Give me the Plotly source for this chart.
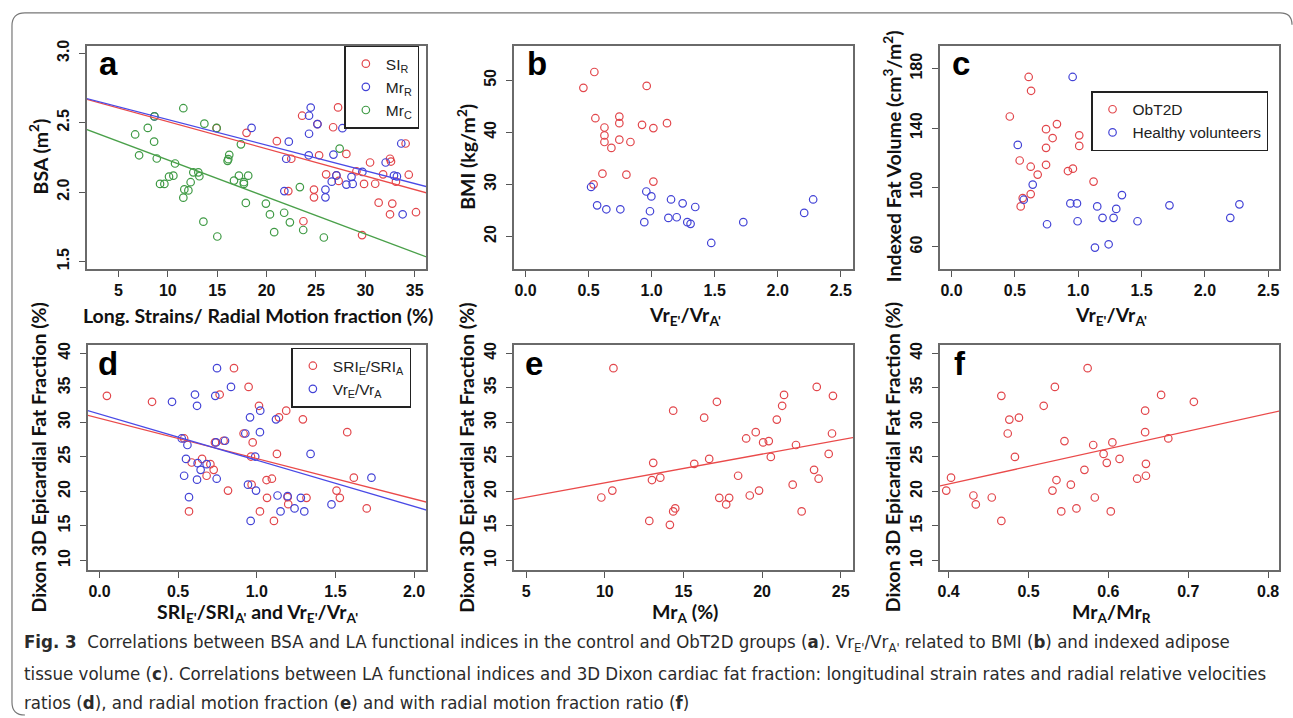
import plotly.graph_objects as go

W, H = 1293, 718

# ---------------- DATA ----------------
# Panel a: BSA vs Long. strains / radial motion fraction
a_sir_x = [14.94, 17.97, 27.24, 23.6, 25.15, 26.74, 21.04, 34.08, 22.5, 25.32, 28.08, 30.48, 32.5, 32.6,
           29.1, 31.8, 34.4, 26.03, 27.07, 27.3, 29.87, 31.0, 33.1, 22.2, 24.8, 24.8, 31.35, 32.73,
           32.5, 35.13, 23.73, 29.67]
a_sir_y = [2.46, 2.427, 2.61, 2.55, 2.49, 2.467, 2.367, 2.35, 2.24, 2.265, 2.275, 2.213, 2.24, 2.22,
           2.15, 2.128, 2.125, 2.128, 2.12, 2.08, 2.059, 2.06, 2.075, 2.007, 2.018, 1.962, 1.924, 1.917,
           1.84, 1.855, 1.79, 1.69]
a_mrr_x = [8.64, 18.48, 24.47, 24.3, 25.15, 27.68, 24.3, 22.25, 33.64, 21.99, 24.27, 26.77, 32.06, 29.7,
           32.9, 33.2, 27.07, 28.6, 26.6, 28.08, 28.72, 21.8, 25.96, 25.96, 33.78]
a_mrr_y = [2.545, 2.462, 2.609, 2.55, 2.49, 2.46, 2.42, 2.363, 2.35, 2.24, 2.265, 2.27, 2.213, 2.145,
           2.118, 2.113, 2.12, 2.11, 2.075, 2.054, 2.059, 2.007, 2.018, 1.962, 1.84]
a_mrc_x = [6.69, 7.09, 7.97, 8.61, 8.64, 8.88, 9.21, 9.65, 10.12, 10.56, 10.73, 11.57, 11.57, 11.67,
           12.08, 12.31, 12.58, 13.09, 13.19, 13.6, 13.7, 14.94, 15.01, 16.12, 16.22, 16.05, 16.7, 17.2,
           17.4, 17.7, 17.7, 18.14, 17.9, 19.93, 20.34, 20.77, 21.78, 22.36, 23.37, 23.71, 25.8, 27.4]
a_mrc_y = [2.415, 2.265, 2.462, 2.363, 2.545, 2.242, 2.059, 2.059, 2.111, 2.118, 2.206, 2.604, 1.96, 2.019,
           2.012, 2.071, 2.142, 2.142, 2.114, 1.787, 2.493, 2.462, 1.68, 2.237, 2.268, 2.225, 2.083, 2.118,
           2.344, 2.059, 2.071, 2.118, 1.922, 1.917, 1.839, 1.711, 1.851, 1.782, 2.036, 1.727, 1.673, 2.313]
# regression lines (intercept, slope)
a_fit_sir = (2.703, -0.01957)
a_fit_mrr = (2.706, -0.01841)
a_fit_mrc = (2.498, -0.02667)

# Panel b: BMI vs Vr_E'/Vr_A'
b_ob_x = [0.459, 0.546, 0.961, 0.554, 0.744, 0.744, 0.626, 0.626, 0.626, 0.744, 0.832, 0.681, 0.924,
          1.014, 1.122, 0.61, 0.8, 1.014, 0.54]
b_ob_y = [48.54, 51.59, 48.92, 42.71, 43.02, 41.76, 40.93, 39.41, 38.14, 38.59, 38.14, 37.0, 41.44,
          40.81, 41.76, 32.05, 31.86, 30.53, 30.0]
b_hv_x = [0.52, 0.568, 0.641, 0.752, 0.942, 0.958, 0.998, 0.987, 1.133, 1.199, 1.154, 1.246, 1.346,
          1.283, 1.309, 1.473, 1.727, 2.21, 2.281]
b_hv_y = [29.5, 25.97, 25.21, 25.21, 22.73, 28.63, 27.68, 24.83, 23.56, 23.68, 27.1, 26.35, 25.65,
          22.73, 22.42, 18.74, 22.73, 24.51, 27.1]

# Panel c: Indexed fat volume vs Vr_E'/Vr_A'
c_ob_x = [0.609, 0.628, 0.46, 0.832, 0.746, 0.798, 1.008, 1.008, 0.746, 0.538, 0.746, 0.625, 0.919,
          0.958, 0.68, 1.121, 0.625, 0.562, 0.546]
c_ob_y = [174.4, 165.1, 147.8, 142.7, 139.3, 133.3, 135.1, 128.0, 126.7, 118.2, 115.3, 114.0, 111.1,
          112.7, 108.7, 104.0, 95.6, 92.9, 87.3]
c_hv_x = [0.956, 0.523, 0.641, 0.57, 1.345, 0.938, 0.99, 1.15, 1.72, 2.272, 1.3, 1.192, 1.279, 2.2,
          0.995, 1.468, 0.754, 1.24, 1.132]
c_hv_y = [174.4, 128.7, 102.0, 91.8, 94.9, 89.3, 89.3, 87.3, 88.0, 88.7, 85.6, 79.6, 79.6, 79.6,
          77.3, 77.3, 75.3, 61.8, 59.6]

# Panel d: Dixon 3D epicardial fat fraction vs SRI_E'/SRI_A' and Vr_E'/Vr_A'
d_sri_x = [0.047, 0.334, 0.855, 0.948, 0.764, 1.014, 1.187, 1.141, 1.293, 1.575, 0.916, 0.974, 0.538,
           0.734, 0.789, 1.128, 0.963, 0.652, 0.586, 0.705, 0.726, 0.681, 0.817, 1.062, 1.096, 0.967,
           1.617, 1.507, 1.528, 1.065, 1.196, 1.2, 1.316, 1.699, 1.02, 1.109, 0.569]
d_sri_y = [33.84, 32.98, 37.85, 35.13, 34.03, 32.4, 31.69, 30.73, 30.44, 28.58, 28.39, 27.1, 27.67,
           27.1, 27.34, 25.43, 25.05, 24.71, 24.19, 23.95, 23.13, 22.27, 20.12, 21.65, 21.84, 20.98,
           21.99, 20.12, 19.07, 19.07, 19.17, 18.16, 19.07, 17.54, 17.11, 15.73, 17.11]
d_vr_x = [0.747, 0.836, 0.607, 0.736, 0.461, 0.62, 1.022, 0.957, 1.122, 1.02, 0.927, 0.523, 0.559,
          0.741, 0.798, 0.99, 1.342, 0.55, 0.624, 0.643, 0.681, 0.538, 0.62, 0.745, 0.944, 0.995,
          1.729, 0.569, 1.132, 1.196, 1.28, 1.475, 1.24, 1.151, 1.302, 0.961]
d_vr_y = [37.85, 35.13, 34.03, 33.84, 32.98, 32.4, 31.69, 30.73, 30.44, 28.58, 28.39, 27.67, 26.72,
          27.1, 27.34, 25.05, 25.43, 24.71, 24.09, 23.13, 23.95, 22.27, 21.7, 21.84, 20.98, 20.12,
          21.99, 19.17, 19.41, 19.31, 19.07, 18.12, 17.54, 17.11, 17.11, 15.73]
d_fit_sri = (30.59, -5.84)
d_fit_vr = (31.2, -6.687)

# Panel e: fat fraction vs Mr_A (%)
e_x = [10.55, 9.78, 10.48, 13.08, 13.0, 13.53, 12.83, 14.14, 14.35, 14.35, 14.48, 15.69, 16.32, 16.64,
       17.13, 17.28, 17.91, 17.72, 18.48, 18.99, 19.22, 19.6, 19.81, 20.07, 20.43, 20.56, 20.94, 21.28,
       21.4, 21.95, 22.16, 22.52, 23.31, 23.48, 23.6, 24.24, 24.45, 24.51]
e_y = [37.85, 19.12, 20.12, 24.14, 21.65, 21.99, 15.73, 15.16, 31.69, 17.11, 17.54, 23.99, 30.68, 24.71,
       32.98, 19.07, 19.07, 18.12, 22.27, 27.67, 19.41, 28.58, 20.12, 27.1, 27.29, 25.0, 30.4, 32.4,
       33.98, 20.98, 26.72, 17.11, 23.13, 35.13, 21.84, 25.43, 28.39, 33.84]
e_fit = (17.07, 0.4166)

# Panel f: fat fraction vs Mr_A/Mr_R
f_x = [0.397, 0.403, 0.431, 0.434, 0.454, 0.466, 0.466, 0.474, 0.476, 0.483, 0.488, 0.519, 0.53, 0.533,
       0.535, 0.541, 0.545, 0.553, 0.56, 0.57, 0.574, 0.581, 0.583, 0.594, 0.598, 0.603, 0.605, 0.614,
       0.636, 0.646, 0.646, 0.647, 0.647, 0.666, 0.675, 0.707]
f_y = [20.12, 21.99, 19.41, 18.12, 19.12, 33.84, 15.73, 28.39, 30.4, 25.0, 30.68, 32.4, 20.12, 35.13,
       21.65, 17.11, 27.29, 20.98, 17.54, 23.13, 37.85, 26.72, 19.12, 25.43, 24.14, 17.11, 27.1, 24.71,
       21.84, 31.69, 28.58, 23.99, 22.27, 33.98, 27.67, 32.98]
f_fit = (10.86, 25.53)

# tick values
a_xticks = [5, 10, 15, 20, 25, 30, 35]
a_yticks = [1.5, 2.0, 2.5, 3.0]
bc_xticks = [0.0, 0.5, 1.0, 1.5, 2.0, 2.5]
b_yticks = [20, 30, 40, 50]
c_yticks = [60, 100, 140, 180]
d_xticks = [0.0, 0.5, 1.0, 1.5, 2.0]
def_yticks = [10, 15, 20, 25, 30, 35, 40]
e_xticks = [5, 10, 15, 20, 25]
f_xticks = [0.4, 0.5, 0.6, 0.7, 0.8]

# ---------------- STYLE ----------------
RED = "#e2474c"
BLUE = "#4343d6"
GREEN = "#3f9a45"
RED_L = "#ea4a4a"
BLUE_L = "#4a4ae6"
GREEN_L = "#4aa04a"
TICKFONT = dict(family="Liberation Sans, Arial, sans-serif", size=16, color="#111", weight="bold")
TITLEFONT = dict(family="Lato, Liberation Sans, sans-serif", size=19.5, color="#111")


def fx(px):
    return px / W


def fy(py):
    return 1 - py / H


# panel boxes in pixels: (left, right, top, bottom)
boxes = {
    "a": (85, 425, 40, 266), "b": (512.7, 852.7, 40, 266), "c": (939.3, 1279.3, 40, 266),
    "d": (86, 425, 342.7, 569.3), "e": (512.7, 852.7, 342.7, 569.3), "f": (939.3, 1279.3, 342.7, 569.3),
}
ranges = {
    "a": ([1.8, 36.18], [1.443, 3.055]),
    "b": ([-0.092, 2.6], [13.66, 56.66]),
    "c": ([-0.092, 2.587], [44.9, 195.5]),
    "d": ([-0.074, 2.078], [8.66, 41.15]),
    "e": ([4.22, 25.81], [8.66, 41.15]),
    "f": ([0.389, 0.814], [8.66, 41.15]),
}
ticks = {
    "a": (a_xticks, a_yticks, ".0f", ".1f"),
    "b": (bc_xticks, b_yticks, ".1f", ".0f"),
    "c": (bc_xticks, c_yticks, ".1f", ".0f"),
    "d": (d_xticks, def_yticks, ".1f", ".0f"),
    "e": (e_xticks, def_yticks, ".0f", ".0f"),
    "f": (f_xticks, def_yticks, ".1f", ".0f"),
}
order = ["a", "b", "c", "d", "e", "f"]
axid = {k: ("" if i == 0 else str(i + 1)) for i, k in enumerate(order)}

fig = go.Figure()


def pts(panel, x, y, color, name, legend=None, show=False):
    s = axid[panel]
    fig.add_trace(go.Scatter(
        x=x, y=y, mode="markers", name=name, xaxis="x" + s, yaxis="y" + s,
        marker=dict(symbol="circle-open", size=7.5, color=color, line=dict(width=1.2, color=color)),
        showlegend=show, legend=legend if legend else "legend", hoverinfo="skip"))


def fit(panel, coef, color):
    s = axid[panel]
    x0, x1 = ranges[panel][0]
    pad = (x1 - x0) * 0.02
    xs = [x0 - pad, x1 + pad]
    ys = [coef[0] + coef[1] * v for v in xs]
    fig.add_trace(go.Scatter(x=xs, y=ys, mode="lines", xaxis="x" + s, yaxis="y" + s,
                             line=dict(color=color, width=1.3), showlegend=False, hoverinfo="skip"))


pts("a", a_sir_x, a_sir_y, RED, "SI<sub>R</sub>", "legend", True)
pts("a", a_mrr_x, a_mrr_y, BLUE, "Mr<sub>R</sub>", "legend", True)
pts("a", a_mrc_x, a_mrc_y, GREEN, "Mr<sub>C</sub>", "legend", True)
fit("a", a_fit_sir, RED_L)
fit("a", a_fit_mrr, BLUE_L)
fit("a", a_fit_mrc, GREEN_L)

pts("b", b_ob_x, b_ob_y, RED, "ObT2D")
pts("b", b_hv_x, b_hv_y, BLUE, "Healthy volunteers")

pts("c", c_ob_x, c_ob_y, RED, "ObT2D", "legend2", True)
pts("c", c_hv_x, c_hv_y, BLUE, "Healthy volunteers", "legend2", True)

pts("d", d_sri_x, d_sri_y, RED, "SRI<sub>E</sub>/SRI<sub>A</sub>", "legend3", True)
pts("d", d_vr_x, d_vr_y, BLUE, "Vr<sub>E</sub>/Vr<sub>A</sub>", "legend3", True)
fit("d", d_fit_sri, RED_L)
fit("d", d_fit_vr, BLUE_L)

pts("e", e_x, e_y, RED, "e")
fit("e", e_fit, RED_L)
pts("f", f_x, f_y, RED, "f")
fit("f", f_fit, RED_L)

layout = dict(width=W, height=H, margin=dict(l=0, r=0, t=0, b=0), paper_bgcolor="white",
              plot_bgcolor="white", showlegend=True)
for k in order:
    s = axid[k]
    l, r, t, b = boxes[k]
    xt, yt, xf, yf = ticks[k]
    common = dict(showline=True, linecolor="#6a6a6a", linewidth=1.6, mirror=True, showgrid=False,
                  zeroline=False, ticks="outside", ticklen=6, tickwidth=1.2, tickcolor="#555",
                  tickfont=TICKFONT, fixedrange=True)
    layout["xaxis" + s] = dict(domain=[fx(l), fx(r)], range=ranges[k][0], tickvals=xt, tickformat=xf,
                               anchor="y" + s, **common)
    layout["yaxis" + s] = dict(domain=[fy(b), fy(t)], range=ranges[k][1], tickvals=yt, tickformat=yf,
                               anchor="x" + s, tickangle=-90, ticklabelstandoff=4, **common)

LEGFONT = dict(family="Liberation Sans, Arial, sans-serif", size=15.5, color="#222")
layout["legend"] = dict(x=fx(418), y=fy(40), xanchor="right", yanchor="top", bordercolor="#222",
                        borderwidth=1.5, bgcolor="white", font=LEGFONT, tracegroupgap=0, itemwidth=30)
layout["legend2"] = dict(x=fx(1268), y=fy(86), xanchor="right", yanchor="top", bordercolor="#222",
                         borderwidth=1.5, bgcolor="white", font=LEGFONT, tracegroupgap=0, itemwidth=30)
layout["legend3"] = dict(x=fx(410), y=fy(345), xanchor="right", yanchor="top", bordercolor="#222",
                         borderwidth=1.5, bgcolor="white", font=LEGFONT, tracegroupgap=0, itemwidth=30)
fig.update_layout(**layout)

ann = []
# panel letters
letters = [("a", 95, 58), ("b", 524, 58), ("c", 949, 58), ("d", 94, 361), ("e", 522, 361), ("f", 951, 361)]
for txt, px, py in letters:
    ann.append(dict(text="<b>%s</b>" % txt, x=fx(px), y=fy(py), xanchor="left", yanchor="middle",
                    font=dict(family="Liberation Sans, Arial, sans-serif", size=33, color="#000")))
# axis titles
xtitles = [
    ("<b>Long. Strains/ Radial Motion fraction (%)</b>", 256, 313),
    ("<b>Vr<sub>E'</sub>/Vr<sub>A'</sub></b>", 684, 313),
    ("<b>Vr<sub>E'</sub>/Vr<sub>A'</sub></b>", 1111, 313),
    ("<b>SRI<sub>E'</sub>/SRI<sub>A'</sub> and Vr<sub>E'</sub>/Vr<sub>A'</sub></b>", 256, 613),
    ("<b>Mr<sub>A</sub> (%)</b>", 684, 613),
    ("<b>Mr<sub>A</sub>/Mr<sub>R</sub></b>", 1111, 613),
]
for txt, px, py in xtitles:
    ann.append(dict(text=txt, x=fx(px), y=fy(py), xanchor="center", yanchor="middle", font=TITLEFONT))
ytitles = [
    ("<b>BSA (m<sup>2</sup>)</b>", 37, 152),
    ("<b>BMI (kg/m<sup>2</sup>)</b>", 465, 152),
    ("<b>Indexed Fat Volume (cm<sup>3</sup>/m<sup>2</sup>)</b>", 892, 152),
    ("<b>Dixon 3D Epicardial Fat Fraction (%)</b>", 37, 456),
    ("<b>Dixon 3D Epicardial Fat Fraction (%)</b>", 465, 456),
    ("<b>Dixon 3D Epicardial Fat Fraction (%)</b>", 892, 456),
]
for txt, px, py in ytitles:
    ann.append(dict(text=txt, x=fx(px), y=fy(py), xanchor="center", yanchor="middle", textangle=-90,
                    font=TITLEFONT))
# caption
CAPFONT = dict(family="Liberation Sans Narrow, DejaVu Sans Condensed, Liberation Sans, sans-serif",
               size=18.5, color="#2b2b2b")
caption = [
    ("<b>Fig. 3</b>  Correlations between BSA and LA functional indices in the control and ObT2D groups "
     "(<b>a</b>). Vr<sub>E'</sub>/Vr<sub>A'</sub> related to BMI (<b>b</b>) and indexed adipose", 643),
    ("tissue volume (<b>c</b>). Correlations between LA functional indices and 3D Dixon cardiac fat "
     "fraction: longitudinal strain rates and radial relative velocities", 674),
    ("ratios (<b>d</b>), and radial motion fraction (<b>e</b>) and with radial motion fraction ratio "
     "(<b>f</b>)", 703),
]
for txt, py in caption:
    ann.append(dict(text=txt, x=fx(20), y=fy(py), xanchor="left", yanchor="middle", align="left",
                    font=CAPFONT))
for a in ann:
    a.update(xref="paper", yref="paper", showarrow=False)
fig.update_layout(annotations=ann)

# rounded frame around the figure
def P(px, py):
    return "%.5f,%.5f" % (fx(px), fy(py))

frame = ("M " + P(23, 716) + " Q " + P(10, 716) + " " + P(10, 703) + " L " + P(10, 20) + " Q " +
         P(10, 7) + " " + P(23, 7) + " L " + P(1280, 7) + " Q " + P(1292, 7) + " " + P(1292, 19))
fig.update_layout(shapes=[dict(type="path", path=frame, xref="paper", yref="paper",
                               line=dict(color="#777", width=1.2))])

fig.write_html("out.html", config={"displayModeBar": False},
               post_script="document.body.style.margin='0';document.body.style.overflow='hidden';")
